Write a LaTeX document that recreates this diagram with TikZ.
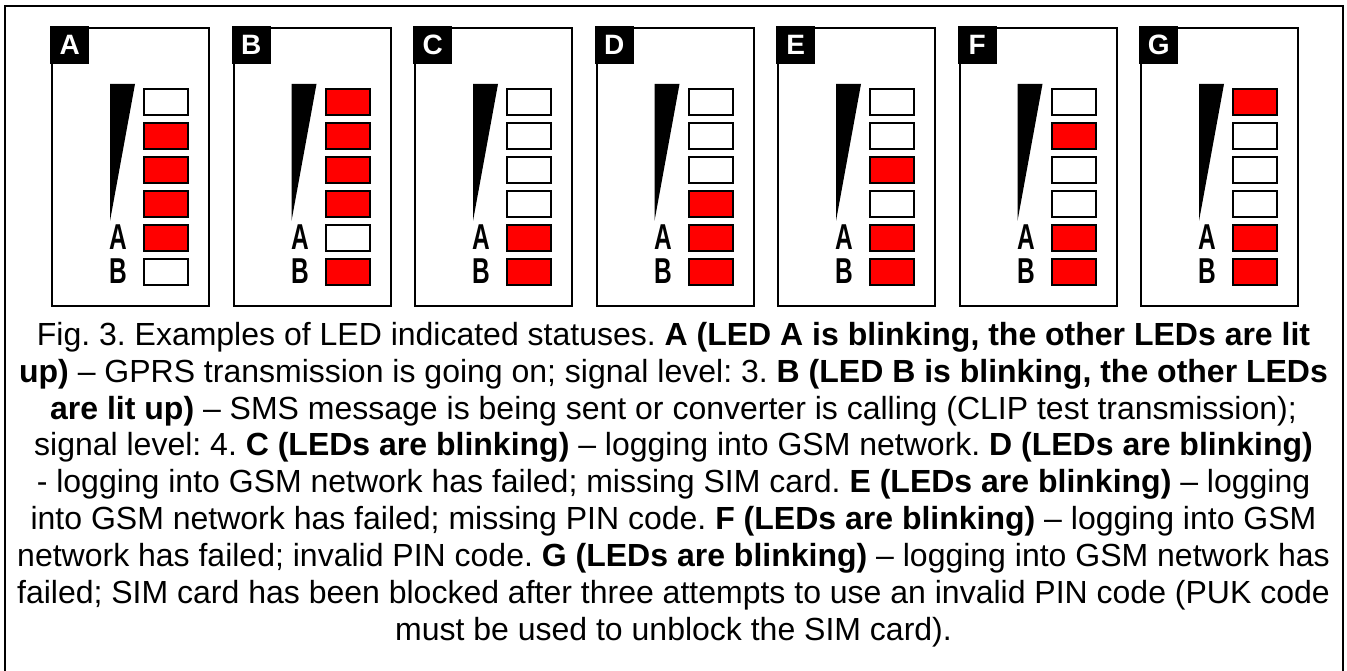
\documentclass[tikz,border=0pt]{standalone}
\usepackage{fontspec}
\setmainfont{Liberation Sans}
\newfontfamily\ledfont[FakeStretch=0.68]{Liberation Sans}
\usetikzlibrary{positioning}
\frenchspacing

\tikzset{
  frame/.style={draw=black,line width=2pt},
  panelbox/.style={frame,fill=white,minimum width=157pt,minimum height=278pt,inner sep=0pt,anchor=north west},
  tagbox/.style={fill=black,text=white,minimum width=39pt,minimum height=38pt,inner sep=0pt,anchor=north west,
    font=\fontsize{28}{28}\selectfont\bfseries},
  led/.style={frame,minimum width=44pt,minimum height=26pt,inner sep=0pt,anchor=north west},
  led0/.style={led,fill=white},
  led1/.style={led,fill=red},
  ledname/.style={inner sep=0pt,font=\ledfont\fontsize{36}{36}\selectfont\bfseries},
}

\begin{document}
\begin{tikzpicture}[x=1pt,y=1pt]
  \useasboundingbox (0,0) rectangle (1347,-671);
  \draw[frame] (5,-671) -- (5,-6) -- (1343,-6) -- (1343,-671);

  \foreach \lbl/\pat [count=\i from 0] in {A/{0,1,1,1,1,0},B/{1,1,1,1,0,1},C/{0,0,0,0,1,1},
      D/{0,0,0,1,1,1},E/{0,0,1,0,1,1},F/{0,1,0,0,1,1},G/{1,0,0,0,1,1}}
  {
    \begin{scope}[shift={(50+181.5*\i,-26)}]
      \node[panelbox] (panel-\lbl) at (1,-1) {};
      \node[tagbox] (tag-\lbl) at (0,0) {\lbl};
      % signal level wedge
      \fill (60,-58) -- (85,-58) -- (60,-195) -- cycle;
      \foreach \s [count=\j from 0] in \pat
        \node[led\s] (led-\lbl-\j) at (93,-62-34*\j) {};
      \node[ledname] (name-\lbl-a) at (68.5,-211.5) {A};
      \node[ledname] (name-\lbl-b) at (68.5,-245.5) {B};
    \end{scope}
  }

  \node[anchor=north,align=center,inner sep=0pt,font=\fontsize{32}{36.9}\selectfont] (caption) at (673.5,-319.2)
  {\strut Fig. 3. Examples of LED indicated statuses. \textbf{A (LED A is blinking, the other LEDs are lit}\\
  \textbf{up)} – GPRS transmission is going on; signal level: 3. \textbf{B (LED B is blinking, the other LEDs}\\
  \textbf{are lit up)} – SMS message is being sent or converter is calling (CLIP test transmission);\\
  signal level: 4. \textbf{C (LEDs are blinking)} – logging into GSM network. \textbf{D (LEDs are blinking)}\\
  - logging into GSM network has failed; missing SIM card. \textbf{E (LEDs are blinking)} – logging\\
  into GSM network has failed; missing PIN code. \textbf{F (LEDs are blinking)} – logging into GSM\\
  network has failed; invalid PIN code. \textbf{G (LEDs are blinking)} – logging into GSM network has\\
  failed; SIM card has been blocked after three attempts to use an invalid PIN code (PUK code\\
  must be used to unblock the SIM card).};
\end{tikzpicture}
\end{document}
